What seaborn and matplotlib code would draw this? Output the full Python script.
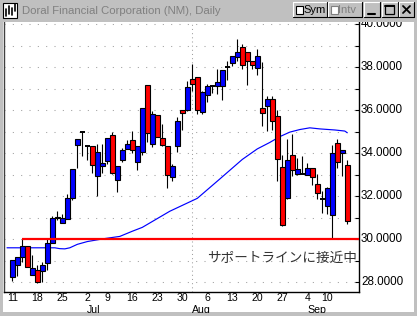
import matplotlib
matplotlib.use("Agg")
import matplotlib.pyplot as plt
from matplotlib.patches import Rectangle
from matplotlib.transforms import ScaledTranslation
import numpy as np
import pandas as pd
import seaborn as sns

# ---------------- data ----------------
opens = [28.25, 28.81, 29.15, 29.68, 28.34, 28.56, 28.50, 28.87, 29.80, 31.05,
         30.77, 30.96, 31.93, 34.38, 34.98, 34.33, 34.33, 32.96, 33.42, 33.65,
         34.86, 32.77, 33.70, 34.18, 34.63, 33.61, 34.07, 37.19, 34.44, 35.79,
         34.72, 34.35, 32.91, 34.33, 35.99, 36.00, 37.47, 37.55, 35.93, 36.71,
         37.11, 37.11, 37.11, 37.99, 38.20, 38.48, 38.94, 38.71, 38.27, 37.97,
         36.08, 36.19, 36.53, 35.75, 33.37, 31.93, 33.93, 33.05, 33.02, 32.98,
         33.33, 32.58, 31.89, 31.55, 31.11, 34.49, 34.02, 33.43]
closes = [29.03, 29.15, 29.69, 28.71, 28.65, 28.02, 28.81, 29.80, 30.97, 30.97,
          31.00, 31.93, 33.25, 34.67, 34.98, 34.33, 33.47, 34.04, 33.53, 34.72,
          33.10, 33.42, 34.16, 34.45, 34.13, 34.32, 36.11, 34.95, 35.83, 34.77,
          34.38, 33.00, 33.39, 35.52, 35.88, 37.09, 37.24, 36.02, 36.84, 37.13,
          37.11, 37.32, 37.89, 37.99, 38.54, 38.71, 38.12, 38.27, 38.10, 38.54,
          35.88, 36.50, 35.49, 33.74, 30.66, 33.67, 33.20, 33.25, 33.02, 33.29,
          32.89, 32.17, 31.89, 32.40, 34.02, 33.59, 34.14, 30.85]
highs = [29.05, 29.15, 30.03, 29.68, 29.25, 28.81, 28.92, 30.03, 31.08, 31.29,
         31.16, 32.09, 33.25, 34.67, 35.00, 34.33, 34.33, 34.41, 34.41, 34.72,
         34.98, 33.42, 34.25, 34.60, 35.01, 34.32, 36.11, 37.19, 35.95, 35.79,
         35.34, 34.35, 33.48, 35.67, 35.99, 37.35, 38.17, 37.55, 36.90, 37.20,
         37.11, 37.92, 37.89, 38.27, 38.54, 39.31, 39.09, 38.71, 38.27, 38.85,
         38.23, 36.65, 36.65, 36.03, 33.90, 34.64, 34.87, 33.79, 33.87, 33.56,
         33.33, 33.02, 32.24, 32.45, 34.36, 34.67, 34.14, 33.68]
lows = [28.05, 28.30, 28.92, 28.71, 28.34, 27.94, 28.02, 28.55, 29.80, 30.90,
        30.77, 30.96, 31.80, 33.30, 33.85, 33.68, 33.10, 32.01, 33.10, 33.48,
        33.02, 32.20, 33.60, 34.18, 34.02, 33.23, 33.93, 34.52, 34.30, 34.77,
        34.33, 32.38, 32.71, 34.07, 35.10, 35.95, 36.91, 35.83, 35.83, 36.37,
        36.80, 36.77, 36.46, 37.39, 38.04, 38.30, 37.92, 37.19, 37.92, 37.62,
        35.26, 35.03, 35.10, 32.71, 30.60, 31.85, 32.94, 33.00, 33.02, 32.98,
        32.50, 31.86, 31.24, 31.16, 30.03, 33.33, 32.94, 30.70]

# moving average (sampled along the line)
ma_idx = [-1.06, 4.5, 8.5, 9.5, 10.5, 11.5, 13, 15, 18.5, 21.5, 24, 26, 31.5,
          37, 41.5, 46, 49, 51.5, 53.5, 55.5, 57.5, 59.5, 61.5, 64.5, 66.5, 67]
ma_val = [29.60, 29.60, 29.60, 29.56, 29.55, 29.60, 29.76, 29.89, 30.03, 30.13,
          30.37, 30.55, 31.30, 31.90, 32.80, 33.71, 34.20, 34.50, 34.77, 34.98,
          35.10, 35.18, 35.13, 35.08, 35.03, 34.95]

day_tick_idx = [0, 5, 10, 15, 19, 24, 29, 34, 39, 44, 49, 54, 59, 63]
day_tick_labels = ['11', '18', '25', '2', '9', '16', '23', '30', '6', '13', '20', '27', '4', '10']
month_start_idx = [15, 36, 59]
month_labels = ['Jul', 'Aug', 'Sep']
y_major = [28, 30, 32, 34, 36, 38, 40]
y_minor = [29, 31, 33, 35, 37, 39]
support_level = 30.0
support_start_idx = 2
title_text = "Doral Financial Corporation (NM), Daily"
note_text = "サポートラインに接近中"

# ---------------- style ----------------
sns.set_style("white")
plt.rcParams['font.family'] = ['Liberation Sans', 'DejaVu Sans']

W, H = 417, 316
fig = plt.figure(figsize=(W / 100, H / 100), dpi=100, facecolor='#c0c0c0')
fig.patches.append(Rectangle((3 / W, 1 - 312 / H), 411 / W, 291 / H,
                             transform=fig.transFigure, facecolor='white',
                             edgecolor='none', zorder=-5))

ax = fig.add_axes([4 / W, 1 - 292 / H, 355 / W, 270 / H], zorder=1)
ax.set_facecolor('white')
XL, XR = -1.66, 69.34
ax.set_xlim(XL, XR)
ax.set_ylim(27.544, 40.102)

df = pd.DataFrame({'i': np.arange(len(opens)), 'open': opens, 'close': closes,
                   'high': highs, 'low': lows})
up = df.close > df.open
dn = df.close < df.open
dj = df.close == df.open

# grid
ax.set_yticks(y_major)
ax.set_yticks(y_minor, minor=True)
ax.set_xticks(day_tick_idx)
ax.set_xticks(month_start_idx, minor=True)
ax.grid(axis='y', which='both', color='#a0a0a0', linestyle=(0, (1, 7)), lw=0.75)
ax.grid(axis='x', which='minor', color='#a0a0a0', linestyle=(0, (1, 3)), lw=0.75)
ax.grid(axis='x', which='major', visible=False)
ax.set_axisbelow(True)

# moving average
sns.lineplot(x=ma_idx, y=ma_val, ax=ax, color='#0000ff', lw=0.85, zorder=2)

# support line
ax.plot([support_start_idx, XR], [support_level, support_level],
        color='#ff0000', lw=1.6, zorder=5, solid_capstyle='butt')

# candles
ax.vlines(df.i, df.low, df.high, color='black', lw=0.8, zorder=3)
ax.bar(df.i[up], (df.close - df.open)[up], bottom=df.open[up], width=0.9,
       color='#0000ff', edgecolor='black', lw=0.8, zorder=4)
ax.bar(df.i[dn], (df.open - df.close)[dn], bottom=df.close[dn], width=0.9,
       color='#ff0000', edgecolor='black', lw=0.8, zorder=4)
ax.hlines(df.open[dj], df.i[dj] - 0.45, df.i[dj] + 0.45, color='black', lw=1.4, zorder=4)

# axes
ax.yaxis.tick_right()
ax.set_yticklabels([f"{v:.4f}" for v in y_major])
ax.tick_params(axis='y', which='both', direction='in', length=3, width=0.8,
               color='black', pad=1.5, labelsize=8.4, labelcolor='black')
shift_up = ScaledTranslation(0, 1.5 / 100, fig.dpi_scale_trans)
for lab in ax.get_yticklabels():
    lab.set_transform(lab.get_transform() + shift_up)
ax.set_xticklabels(day_tick_labels)
ax.tick_params(axis='x', which='both', length=0, pad=0.5, labelsize=7.6, labelcolor='black')
ax.set_xlabel('')
ax.set_ylabel('')
ax.spines['top'].set_visible(False)
ax.spines['right'].set_color('black')
ax.spines['right'].set_linewidth(1.0)
ax.spines['bottom'].set_color('black')
ax.spines['bottom'].set_linewidth(1.0)
ax.spines['left'].set_color('#404040')
ax.spines['left'].set_linewidth(1.0)

for i, lab in zip(month_start_idx, month_labels):
    ax.text(i, -12.8 / 270, lab, transform=ax.get_xaxis_transform(), ha='left',
            va='top', fontsize=7.6, color='black', clip_on=False)

ax.text(68.9, 29.13, note_text, ha='right', va='center', fontsize=9.8,
        color='#333333', family=['Noto Sans CJK JP', 'DejaVu Sans'], zorder=6)

# ---------------- window chrome overlay ----------------
ov = fig.add_axes([0, 0, 1, 1], zorder=10)
ov.set_xlim(0, W)
ov.set_ylim(H, 0)
ov.axis('off')
ov.set_facecolor('none')
gray = '#c0c0c0'
ov.add_patch(Rectangle((0, 0), W, 22, fc=gray, ec='none'))
ov.add_patch(Rectangle((0, 0), 3, H, fc=gray, ec='none'))
ov.add_patch(Rectangle((414, 0), 3, H, fc=gray, ec='none'))
ov.add_patch(Rectangle((0, 312.5), W, 4, fc=gray, ec='none'))

# icon
ov.add_patch(Rectangle((3, 3), 14, 15, fc='white', ec='black', lw=0.8))
for xx, y0, y1 in [(6, 9, 16), (9, 6, 14), (12, 8, 15), (15, 4, 11)]:
    ov.plot([xx, xx], [y0, y1], color='black', lw=1.2)

ov.text(22, 11, title_text, ha='left', va='center', fontsize=8.2, color='#808080')


def button(x0, y0, w, h):
    ov.add_patch(Rectangle((x0, y0), w, h, fc=gray, ec='none'))
    ov.plot([x0, x0 + w], [y0, y0], color='white', lw=0.8)
    ov.plot([x0, x0], [y0, y0 + h], color='white', lw=0.8)
    ov.plot([x0, x0 + w], [y0 + h, y0 + h], color='black', lw=0.8)
    ov.plot([x0 + w, x0 + w], [y0, y0 + h], color='black', lw=0.8)


button(293, 2, 34, 15)
ov.add_patch(Rectangle((296, 6), 7, 8, fc='white', ec='black', lw=0.8))
ov.text(303.5, 10, "Sym", ha='left', va='center', fontsize=8, color='black')
button(328, 2, 34, 15)
ov.add_patch(Rectangle((331, 6), 7, 8, fc='white', ec='#808080', lw=0.8))
ov.text(338.5, 10, "Intv", ha='left', va='center', fontsize=8, color='#808080')
button(364, 2, 16, 15)
ov.plot([368, 375], [13.5, 13.5], color='black', lw=1.5)
button(382, 2, 16, 15)
ov.add_patch(Rectangle((385.5, 5), 9, 9, fc='none', ec='black', lw=0.9))
ov.plot([385.5, 394.5], [5.5, 5.5], color='black', lw=1.4)
button(399, 2, 15, 15)
ov.plot([403, 410], [6, 13], color='black', lw=1.3)
ov.plot([403, 410], [13, 6], color='black', lw=1.3)

fig.savefig("out.png", dpi=100, facecolor=fig.get_facecolor())
